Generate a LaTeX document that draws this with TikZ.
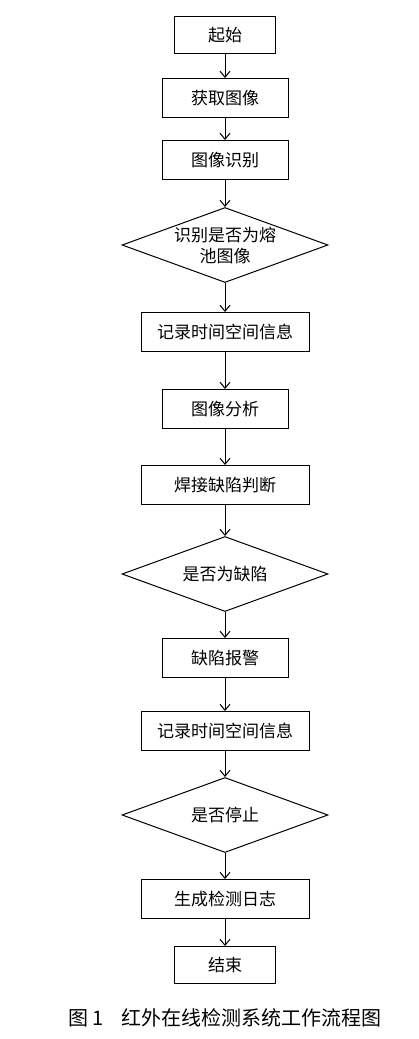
\documentclass[tikz,border=0pt]{standalone}
\usepackage{fontspec}
\newfontfamily\cjk{Noto Sans CJK SC}
\usepackage{tikz}
\usetikzlibrary{arrows.meta,positioning,shapes.geometric}
\tikzset{
  procbox/.style={draw=black, line width=1pt, align=center, font=\cjk\fontsize{17}{21}\selectfont, minimum width=126pt, minimum height=39pt, inner sep=2pt},
  widebox/.style={procbox, minimum width=168pt},
  termbox/.style={procbox, minimum width=101pt, minimum height=37pt},
  decision/.style={diamond, draw=black, line width=1pt, align=center, font=\cjk\fontsize{17}{21}\selectfont, aspect=2.75, inner sep=0pt, minimum width=206pt, minimum height=75pt},
  flow/.style={-{Straight Barb[length=6pt,width=10pt]}, line width=1pt, draw=black},
  captionnode/.style={font=\cjk\fontsize{20}{24}\selectfont, inner sep=2pt}
}

\begin{document}
\begin{tikzpicture}[x=1pt, y=1pt, node distance=26pt]
  \useasboundingbox (0,0) rectangle (418,-1039);
  \node[termbox] (start) at (225,-35) {起始};
  \node[procbox, below=24pt of start] (grab) {获取图像};
  \node[procbox, below=22pt of grab] (recog) {图像识别};
  \node[decision, below=27pt of recog] (ispool) {识别是否为熔\\池图像};
  \node[widebox, below=29pt of ispool] (rec1) {记录时间空间信息};
  \node[procbox, below=37pt of rec1] (analyse) {图像分析};
  \node[widebox, below=36pt of analyse] (judge) {焊接缺陷判断};
  \node[decision, below=31pt of judge] (isdefect) {是否为缺陷};
  \node[procbox, below=26pt of isdefect] (alarm) {缺陷报警};
  \node[widebox, below=33pt of alarm] (rec2) {记录时间空间信息};
  \node[decision, below=26pt of rec2] (isstop) {是否停止};
  \node[widebox, below=26pt of isstop] (log) {生成检测日志};
  \node[termbox, below=27pt of log] (finish) {结束};
  \node[captionnode, below=22pt of finish] (caption) {图 1\hspace{0.9em}红外在线检测系统工作流程图};

  \draw[flow] (start) -- (grab);
  \draw[flow] (grab) -- (recog);
  \draw[flow] (recog) -- (ispool);
  \draw[flow] (ispool) -- (rec1);
  \draw[flow] (rec1) -- (analyse);
  \draw[flow] (analyse) -- (judge);
  \draw[flow] (judge) -- (isdefect);
  \draw[flow] (isdefect) -- (alarm);
  \draw[flow] (alarm) -- (rec2);
  \draw[flow] (rec2) -- (isstop);
  \draw[flow] (isstop) -- (log);
  \draw[flow] (log) -- (finish);
\end{tikzpicture}
\end{document}
